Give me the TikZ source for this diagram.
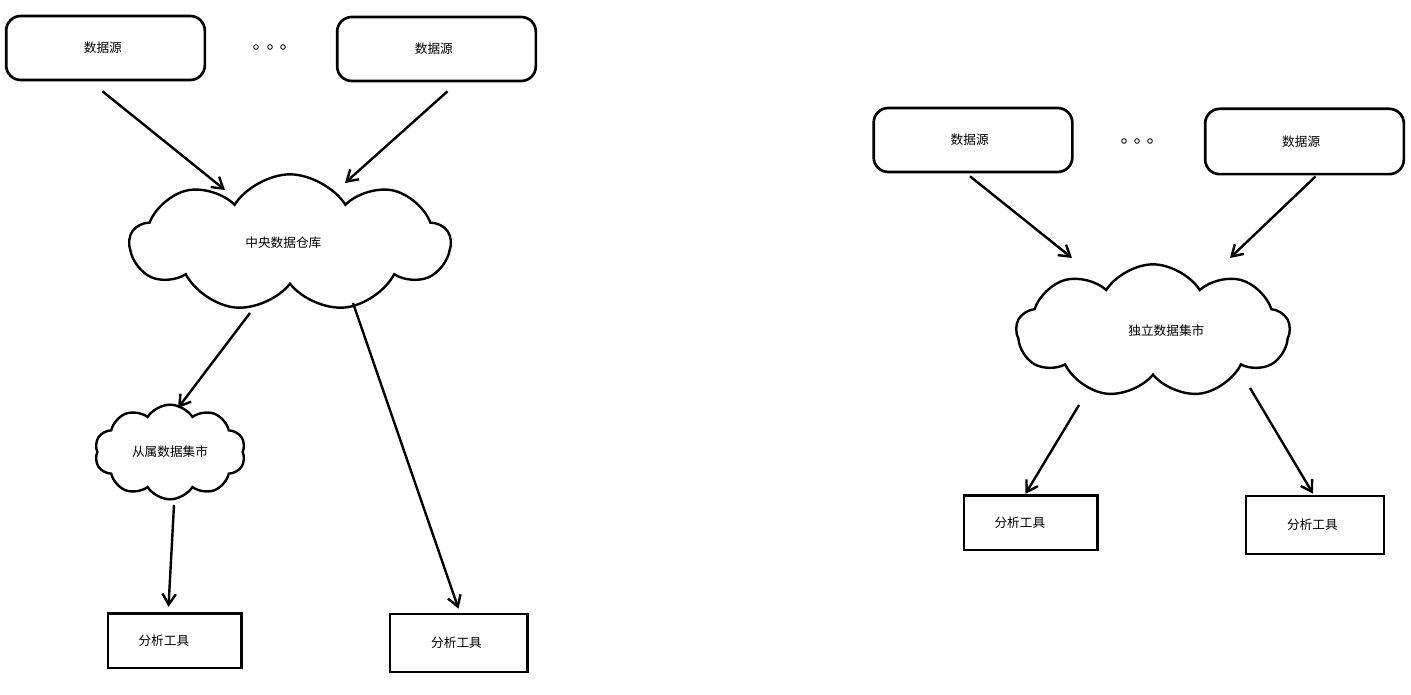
\documentclass[tikz,border=0pt]{standalone}
\usepackage{fontspec}
\setmainfont{Noto Sans CJK SC}
\usetikzlibrary{shapes.symbols,arrows.meta,calc}
\begin{document}
\begin{tikzpicture}[x=0.75pt,y=-0.75pt,
  every node/.style={font=\fontsize{9.5}{11}\selectfont},
  src/.style={draw,line width=2pt,rounded corners=11pt,minimum width=149pt,minimum height=48pt,inner sep=0pt},
  tool/.style={draw,line width=2pt,inner sep=0pt},
  cld/.style={draw,shape=cloud,cloud puffs=9,cloud puff arc=115,cloud ignores aspect,line width=1.8pt,inner sep=0pt},
  conn/.style={line width=1.8pt,-{Straight Barb[length=8pt,width=10pt]}},
  dot/.style={draw,circle,line width=0.6pt,minimum size=3.5pt,inner sep=0pt}
]
\useasboundingbox (0,0) rectangle (1411,695);
% sources
\node[src] (s1) at (105.5,48) {\hspace*{-4pt}数据源};
\node[src] (s2) at (436.5,49) {\hspace*{-4pt}数据源};
\node[src] (s3) at (973,140) {\hspace*{-5pt}数据源};
\node[src,minimum height=49pt] (s4) at (1304.5,141.5) {\hspace*{-5pt}数据源};
% dots
\node[dot] (d1) at (256,47) {};
\node[dot] (d2) at (270,47) {};
\node[dot] (d3) at (283,47) {};
\node[dot] (d4) at (1124,141) {};
\node[dot] (d5) at (1137,141) {};
\node[dot] (d6) at (1150,141) {};
% clouds
\node[cld,minimum width=240pt,minimum height=103pt] (dw) at (290,243) {\hspace*{-10pt}中央数据仓库};
\node[cld,cloud puffs=10,minimum width=113pt,minimum height=71pt] (dm) at (170,452) {从属数据集市};
\node[cld,minimum width=205pt,minimum height=100pt] (im) at (1153,331) {\hspace*{20pt}独立数据集市};
% tools
\node[tool,minimum width=100pt,minimum height=41pt] (t1) at (174.5,640.5) {\hspace*{-16pt}分析工具};
\node[tool,minimum width=103pt,minimum height=43.5pt] (t2) at (458.5,643) {\hspace*{-3pt}分析工具};
\node[tool,minimum width=100pt,minimum height=41pt] (t3) at (1030.5,522.5) {\hspace*{-16pt}分析工具};
\node[tool,minimum width=103.5pt,minimum height=43.5pt] (t4) at (1315,525) {\hspace*{-4pt}分析工具};
% connectors
\draw[conn] ($(s1.south)+(-3,10)$) -- ($(dw)+(-65,-53)$);
\draw[conn] ($(s2.south)+(11,9)$) -- ($(dw)+(55,-60)$);
\draw[conn] ($(dw)+(-40,70)$) -- ($(dm)+(8,-44)$);
\draw[conn] ($(dw)+(63,60)$) -- ($(t2.north)+(0,-4)$);
\draw[conn] ($(dm)+(4,53)$) -- ($(t1.north)+(-6,-5)$);
\draw[conn] ($(s3.south)+(-3,3)$) -- ($(im)+(-81,-73)$);
\draw[conn] ($(s4.south)+(11,1)$) -- ($(im)+(77,-73)$);
\draw[conn] ($(im)+(-74,74)$) -- ($(t3.north)+(-5,0)$);
\draw[conn] ($(im)+(97,57)$) -- ($(t4.north)+(-2,-1)$);
\end{tikzpicture}
\end{document}
